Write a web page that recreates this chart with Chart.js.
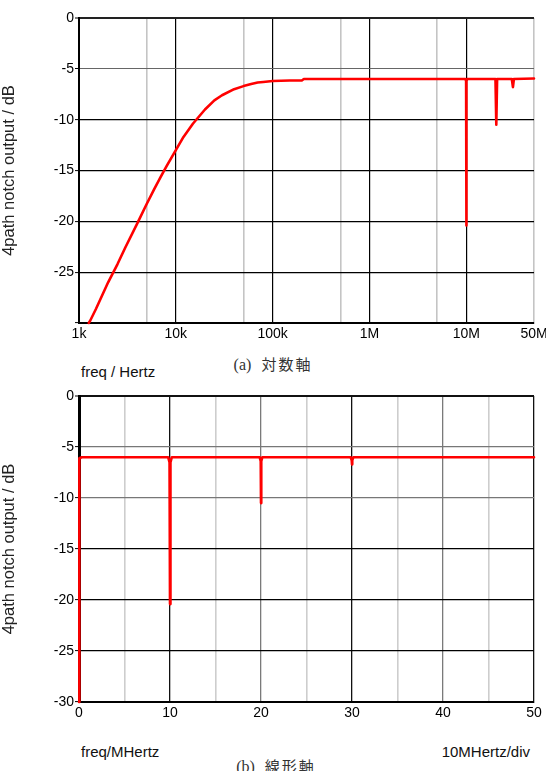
<!DOCTYPE html>
<html>
<head>
<meta charset="utf-8">
<script src="https://cdn.jsdelivr.net/npm/chart.js@4/dist/chart.umd.min.js"></script>
<style>
  html, body { margin: 0; padding: 0; background: #fff; }
  body { width: 546px; height: 771px; position: relative; overflow: hidden; }
  canvas { position: absolute; left: 0; }
  .t { position: absolute; font-family: 'Liberation Sans', Arial, sans-serif; font-size: 15px; line-height: 15px; color: #111; white-space: nowrap; }
  .cap { position: absolute; font-family: 'Liberation Serif', 'DejaVu Serif', 'Noto Sans CJK JP', serif; font-size: 16px; line-height: 16px; color: #333; white-space: nowrap; transform: translateX(-50%); }
  .cap span { font-family: 'Noto Sans CJK JP', sans-serif; margin-left: 10px; letter-spacing: 2px; font-size: 15px; }
</style>
</head>
<body>
<canvas id="c1" width="546" height="340" style="top:0"></canvas>
<canvas id="c2" width="546" height="340" style="top:380px"></canvas>
<div class="t" style="left:81px; top:364px;">freq / Hertz</div>
<div class="cap" style="left:273px; top:356px;">(a)<span>対数軸</span></div>
<div class="t" style="left:81px; top:744px;">freq/MHertz</div>
<div class="t" style="right:16px; top:744px;">10MHertz/div</div>
<div class="cap" style="left:276px; top:758px;">(b)<span>線形軸</span></div>
<script>
// ---- data ----
const yTitle = '4path notch output / dB';
const yTickValues = [0, -5, -10, -15, -20, -25, -30];

// (a) logarithmic frequency axis
const logTickValues = [1e3, 5e3, 1e4, 5e4, 1e5, 5e5, 1e6, 5e6, 1e7, 5e7];
const logTickLabels = ['1k', '', '10k', '', '100k', '', '1M', '', '10M', '50M'];
const logFreqHz = [1260, 1300, 1500, 2000, 2500, 3000, 4000, 5000, 6000, 7000, 8000, 10000,
  12000, 15000, 20000, 25000, 30000, 40000, 50000, 60000, 70000, 80000, 100000, 150000, 200000,
  210000, 1e6, 5e6, 9.8e6, 9.95e6, 1e7, 1.005e7, 1.02e7, 2.0e7, 2.04e7, 2.08e7, 2.95e7, 3.03e7,
  3.1e7, 5e7];
const logGainDb = [-30.0, -29.8, -28.6, -26.0, -24.2, -22.6, -20.2, -18.3, -16.8, -15.6, -14.6, -13.0,
  -11.7, -10.4, -9.0, -8.1, -7.6, -7.0, -6.7, -6.5, -6.35, -6.3, -6.2, -6.15, -6.15,
  -6.0, -6.0, -6.0, -6.0, -6.2, -20.4, -6.2, -6.0, -6.0, -10.5, -6.0, -6.0, -6.8,
  -6.0, -5.95];

// (b) linear frequency axis (MHz)
const linTickValues = [0, 5, 10, 15, 20, 25, 30, 35, 40, 45, 50];
const linTickLabels = ['0', '', '10', '', '20', '', '30', '', '40', '', '50'];
const linFreqMHz = [0, 0, 0.08, 0.3, 1, 9.8, 9.95, 10, 10.05, 10.2, 19.85, 19.97, 20, 20.03, 20.15,
  29.85, 29.97, 30, 30.03, 30.15, 50];
const linGainDb = [-30, -6.4, -6.1, -6.0, -6.0, -6.0, -6.5, -20.4, -6.5, -6.0, -6.0, -6.4, -10.5, -6.4, -6.0,
  -6.0, -6.3, -6.7, -6.3, -6.0, -6.0];

// ---- chart building ----
Chart.defaults.font.family = "'Liberation Sans', Arial, sans-serif";
Chart.defaults.font.size = 14;
Chart.defaults.color = '#000';

function fixY(scale) { scale.width = 79; scale.paddingTop = 0; scale.paddingBottom = 0; }
function fixX(h) { return function (scale) { scale.height = h; scale.paddingLeft = 0; scale.paddingRight = 0; }; }

function yAxis(showBottomLabel, gridStyle) {
  return {
    type: 'linear', min: -30, max: 0,
    afterBuildTicks: s => { s.ticks = yTickValues.map(v => ({ value: v })); },
    afterFit: fixY,
    ticks: {
      padding: 1,
      callback: (v) => (v === -30 && !showBottomLabel) ? '' : String(v)
    },
    grid: {
      color: c => gridStyle(c.tick ? c.tick.value : 0).c,
      lineWidth: c => gridStyle(c.tick ? c.tick.value : 0).w,
      tickColor: '#000', tickLength: 4, tickWidth: 1, drawTicks: true
    },
    border: { display: true, color: '#000', width: 2 },
    title: { display: true, text: yTitle, color: '#222', font: { size: 16.5 }, padding: { top: 0, bottom: 0 } }
  };
}

function makeChart(id, xScale, yScale, xs, ys, top) {
  return new Chart(document.getElementById(id), {
    type: 'scatter',
    data: {
      datasets: [{
        data: xs.map((x, i) => ({ x: x, y: ys[i] })),
        showLine: true, borderColor: '#ff0000', backgroundColor: '#ff0000',
        borderWidth: 2.6, pointRadius: 0, tension: 0, borderJoinStyle: 'round', borderCapStyle: 'round',
        clip: false
      }]
    },
    options: {
      responsive: false, animation: false, devicePixelRatio: 1,
      layout: { padding: { top: top, right: 12, left: 0, bottom: 0 } },
      plugins: { legend: { display: false }, tooltip: { enabled: false } },
      scales: { x: xScale, y: yScale }
    }
  });
}

// chart (a)
const xLog = {
  type: 'logarithmic', min: 1e3, max: 5e7,
  afterBuildTicks: s => { s.ticks = logTickValues.map(v => ({ value: v })); },
  afterFit: fixX(17),
  ticks: {
    padding: 3, autoSkip: false, maxRotation: 0,
    callback: (v, i) => logTickLabels[logTickValues.indexOf(v)] ?? ''
  },
  grid: {
    drawTicks: false,
    color: c => {
      const v = c.tick ? c.tick.value : 0;
      const m = v / Math.pow(10, Math.floor(Math.log10(v) + 1e-9));
      return Math.abs(m - 1) < 1e-6 ? '#000' : '#c4c4c4';
    },
    lineWidth: c => {
      const v = c.tick ? c.tick.value : 0;
      const m = v / Math.pow(10, Math.floor(Math.log10(v) + 1e-9));
      return Math.abs(m - 1) < 1e-6 ? 1.2 : 1.6;
    }
  },
  border: { display: true, color: '#000', width: 2 }
};
const yLogStyle = v => v === 0 ? { c: '#222', w: 2 } : v === -5 ? { c: '#666', w: 1 } : { c: '#000', w: 1.2 };
const chA = makeChart('c1', xLog, yAxis(false, yLogStyle), logFreqHz, logGainDb, 18);

// chart (b)
const xLin = {
  type: 'linear', min: 0, max: 50,
  afterBuildTicks: s => { s.ticks = linTickValues.map(v => ({ value: v })); },
  afterFit: fixX(18),
  ticks: {
    padding: 3, autoSkip: false, maxRotation: 0,
    callback: (v) => linTickLabels[linTickValues.indexOf(v)] ?? ''
  },
  grid: {
    drawTicks: false,
    color: c => {
      const v = c.tick ? c.tick.value : 0;
      if (v % 10 !== 0) return '#cdcdcd';
      if (v === 20 || v === 40) return '#7a7a7a';
      return '#111';
    },
    lineWidth: c => {
      const v = c.tick ? c.tick.value : 0;
      return v % 10 !== 0 ? 1.6 : 1.3;
    }
  },
  border: { display: true, color: '#000', width: 2 }
};
const yLinStyle = v => v === 0 ? { c: '#111', w: 2 } : (v === -5 || v === -10) ? { c: '#777', w: 1.2 } : { c: '#000', w: 1.2 };
const yLin = yAxis(true, yLinStyle);
yLin.border.width = 3;
makeChart('c2', xLin, yLin, linFreqMHz, linGainDb, 16);
</script>
</body>
</html>
